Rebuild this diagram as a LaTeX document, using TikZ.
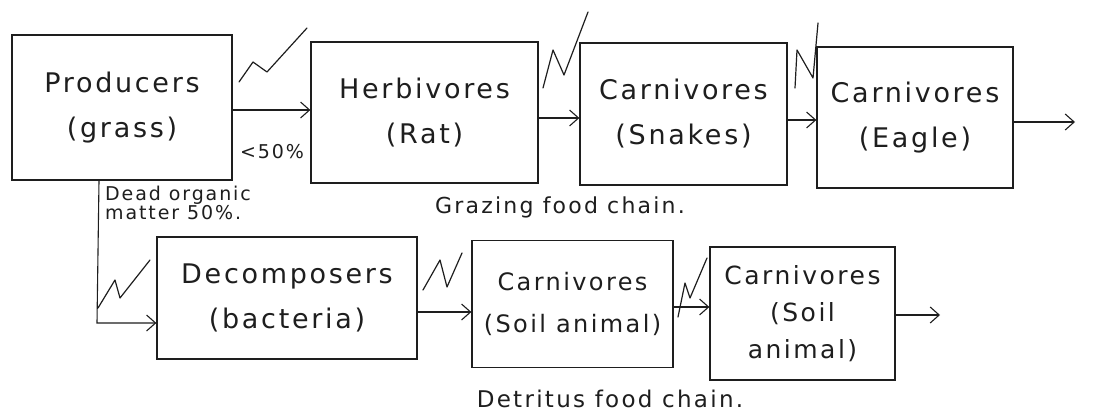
\documentclass[tikz,border=0pt]{standalone}
\usepackage{fontspec}
\setmainfont{DejaVu Sans}[LetterSpace=10]
\usetikzlibrary{arrows.meta}
\definecolor{ink}{RGB}{30,30,30}
\begin{document}
\begin{tikzpicture}[x=1pt,y=-1pt,
  box/.style={draw=ink, line width=1.3pt, inner sep=0pt, align=center,
    text=ink, font=\fontsize{27}{45}\selectfont},
  arr/.style={draw=ink, line width=1.1pt, -{Straight Barb[length=9pt,width=16pt]}},
  zig/.style={draw=ink, line width=1.2pt, line join=round, line cap=round},
  note/.style={text=ink, inner sep=0pt}]
\fill[white] (0,0) rectangle (1099,415);
\useasboundingbox (0,0) rectangle (1099,415);

% grazing food chain boxes
\node[box, minimum width=220, minimum height=145] (prod) at (122,107.5) {Producers\\(grass)};
\node[box, minimum width=227, minimum height=141] (herb) at (424.5,112.5) {Herbivores\\(Rat)};
\node[box, minimum width=207, minimum height=142] (snake) at (683.5,114) {Carnivores\\(Snakes)};
\node[box, minimum width=196, minimum height=141] (eagle) at (915,117.5) {Carnivores\\(Eagle)};

% detritus food chain boxes
\node[box, minimum width=260, minimum height=122] (decomp) at (287,298) {Decomposers\\(bacteria)};
\node[box, minimum width=201, minimum height=127, font=\fontsize{24}{42}\selectfont] (soila) at (572.5,304) {Carnivores\\(Soil animal)};
\node[box, minimum width=185, minimum height=133, font=\fontsize{25}{37}\selectfont] (soilb) at (802.5,313.5) {Carnivores\\(Soil\\ animal)};

% arrow levels and free ends
\coordinate (r1) at (0,110);
\coordinate (r2) at (0,118);
\coordinate (r3) at (0,120);
\coordinate (r4) at (0,122);
\coordinate (d1) at (0,312);
\coordinate (d2) at (0,307);
\coordinate (d3) at (0,315);
\coordinate (dx) at (99,0);
\coordinate (dcorner) at (97,323);
\coordinate (gend) at (1075,122);
\coordinate (dend) at (940,315);

\draw[arr] (prod.east |- r1) -- (herb.west |- r1);
\draw[arr] (herb.east |- r2) -- (snake.west |- r2);
\draw[arr] (snake.east |- r3) -- (eagle.west |- r3);
\draw[arr] (eagle.east |- r4) -- (gend);

\draw[arr] (prod.south -| dx) -- (dcorner) -- (decomp.west |- dcorner);
\draw[arr] (decomp.east |- d1) -- (soila.west |- d1);
\draw[arr] (soila.east |- d2) -- (soilb.west |- d2);
\draw[arr] (soilb.east |- d3) -- (dend);

% energy zigzags
\draw[zig] (239,82) -- (253,62) -- (267,72) -- (307,28);
\draw[zig] (543,88) -- (553,50) -- (564,75) -- (588,12);
\draw[zig] (795,88) -- (797,50) -- (813,78) -- (818,23);
\draw[zig] (98,308) -- (115,280) -- (120,298) -- (150,260);
\draw[zig] (423,290) -- (440,260) -- (447,287) -- (462,253);
\draw[zig] (678,317) -- (685,283) -- (690,298) -- (707,258);

% labels
\node[note, font=\fontsize{19}{20}\selectfont] (lt) at (272,152) {<50\%};
\node[note, anchor=north west, align=left, font=\fontsize{19}{17}\selectfont] (dom) at (105,186) {Dead organic\\matter 50\%.};
\node[note, font=\fontsize{22}{24}\selectfont] (graz) at (560,207) {Grazing food chain.};
\node[note, font=\fontsize{23}{24}\selectfont] (detr) at (610,399) {Detritus food chain.};
\end{tikzpicture}
\end{document}
